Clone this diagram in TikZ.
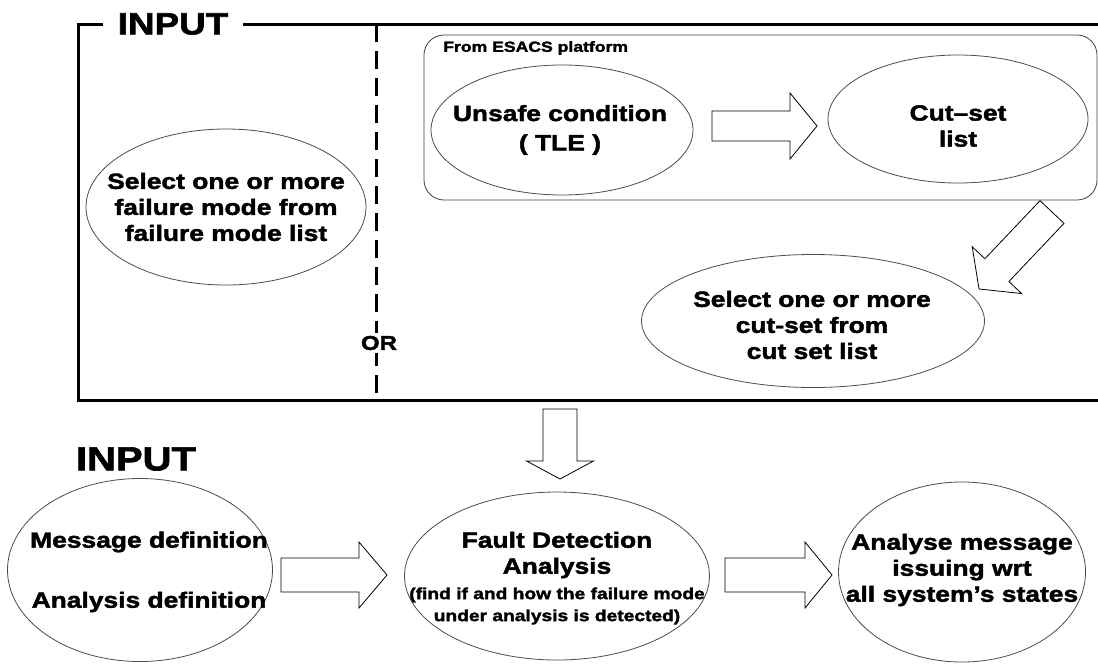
\documentclass[tikz,border=0pt]{standalone}
\usepackage{fontspec}
\setmainfont{Liberation Sans Bold}[FakeStretch=1.2, FakeBold=2]
\usetikzlibrary{calc,shapes.geometric}

% hollow block arrow from #1 to #2: half shaft width #3, half head width #4, head length #5
\newcommand\fatarrow[5]{%
  \coordinate (fa-c) at ($(#2)!#5!(#1)$);
  \draw[fat] ($(#1)!#3!90:(#2)$) -- ($(fa-c)!#3!-90:(#1)$) -- ($(fa-c)!#4!-90:(#1)$)
    -- (#2) -- ($(fa-c)!#4!90:(#1)$) -- ($(fa-c)!#3!90:(#1)$) -- ($(#1)!#3!-90:(#2)$) -- cycle;
}

\tikzset{
  frameline/.style={line width=2.25pt, line cap=butt, line join=miter},
  orline/.style={line width=2.25pt, dash pattern=on 13.5pt off 6.75pt},
  oval/.style={ellipse, draw=black!70, line width=0.6pt, inner sep=0pt, fill=white},
  platform/.style={draw=black!75, line width=0.6pt, rounded corners=15pt, inner sep=0pt},
  fat/.style={draw=black, line width=0.6pt, fill=white, line join=miter},
  txt/.style={font=\fontsize{16.5}{19.5}\selectfont, align=center, inner sep=0pt},
  smalltxt/.style={font=\fontsize{12}{16.5}\selectfont, align=center, inner sep=0pt},
  note/.style={font=\fontsize{11}{13}\selectfont, inner sep=0pt},
  heading/.style={font=\fontsize{23}{26}\selectfont, inner sep=0pt},
}

\begin{document}
\begin{tikzpicture}[x=0.75pt, y=-0.75pt]
\useasboundingbox (0,0) rectangle (1098,664);

% ---------- input frame ----------
\node[heading] (inlab) at (173,24) {INPUT};
\draw[frameline] (243,24) -- (1098,24);
\draw[frameline] (103,24) -- (78,24) -- (78,400) -- (1098,400);
\draw[orline] (376,24) -- (376,394);
\node[txt, font=\fontsize{15}{18}\selectfont, fill=white, inner sep=2pt] (or) at (379,343) {OR};

% failure mode selection
\node[oval, minimum width=210pt, minimum height=117pt] (fm) at (226,207) {};
\node[txt] (fm-t) at (fm) {Select one or more\\failure mode from\\failure mode list};

% ESACS platform group
\node[platform, minimum width=504.75pt, minimum height=123.75pt] (esacs) at (760.5,117.5) {};
\node[note, anchor=west] (esacs-lab) at (443,48) {From ESACS platform};

\node[oval, minimum width=196.5pt, minimum height=97.5pt] (tle) at (562,130) {};
\node[txt, font=\fontsize{16.5}{22}\selectfont] (tle-t) at (560,130) {Unsafe condition\\( TLE )};

\node[oval, minimum width=195pt, minimum height=96pt] (cs) at (958,119) {};
\node[txt] (cs-t) at (958,126) {Cut–set\\list};

\node[oval, minimum width=257.25pt, minimum height=99.75pt] (sel) at (813,321) {};
\node[txt] (sel-t) at (812,325) {Select one or more\\cut-set from\\cut set list};

\coordinate (a1s) at (712,126);
\coordinate (a1e) at (817,126);
\fatarrow{a1s}{a1e}{11.25pt}{24.75pt}{20.25pt}

\coordinate (a2s) at (1052,212);
\coordinate (a2e) at (979,289);
\fatarrow{a2s}{a2e}{12.4pt}{25.5pt}{19.5pt}

% ---------- analysis row ----------
\coordinate (a3s) at (560,409);
\coordinate (a3e) at (560,479);
\fatarrow{a3s}{a3e}{12.75pt}{25.1pt}{13.5pt}

\node[heading, font=\fontsize{25}{28}\selectfont] (in2) at (136,459) {INPUT};

\node[oval, minimum width=198.75pt, minimum height=137.25pt] (msg) at (140,570) {};
\node[txt] (msg-t1) at (149,542) {Message definition};
\node[txt] (msg-t2) at (149,602) {Analysis definition};

\node[oval, minimum width=228.75pt, minimum height=126pt] (fda) at (557,576) {};
\node[txt] (fda-t) at (557,555) {Fault Detection\\Analysis};
\node[smalltxt] (fda-s) at (557,606) {(find if and how the failure mode\\under analysis is detected)};

\node[oval, minimum width=185.25pt, minimum height=135pt] (ana) at (962,572) {};
\node[txt] (ana-t) at (962,570) {Analyse message\\issuing wrt\\all system’s states};

\coordinate (a4s) at (281,575);
\coordinate (a4e) at (387,575);
\fatarrow{a4s}{a4e}{12.75pt}{24.75pt}{21pt}

\coordinate (a5s) at (725,575);
\coordinate (a5e) at (832,575);
\fatarrow{a5s}{a5e}{12.75pt}{24.75pt}{20.25pt}
\end{tikzpicture}
\end{document}
